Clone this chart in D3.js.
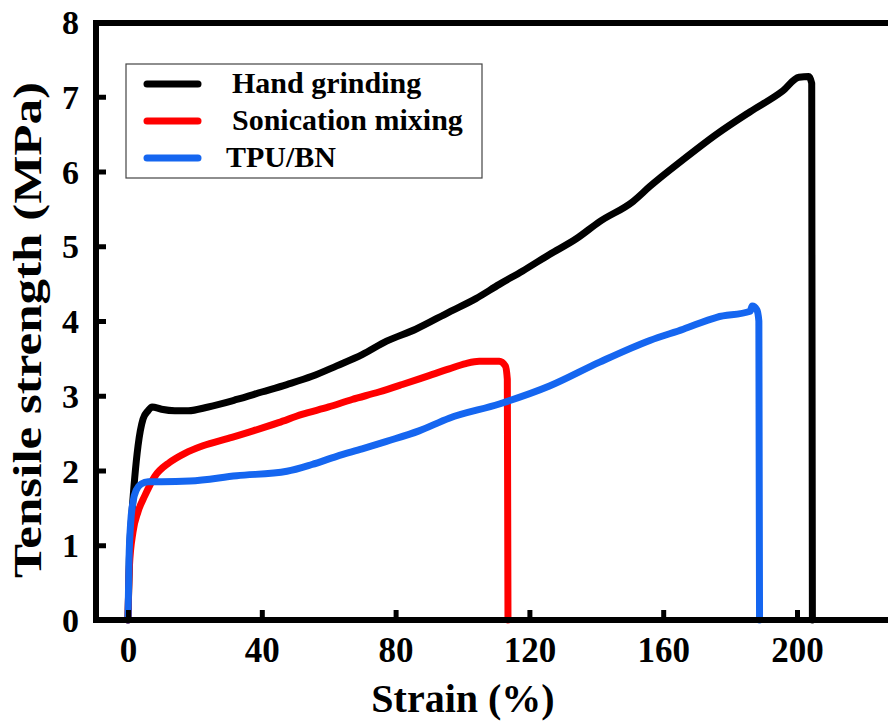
<!DOCTYPE html>
<html>
<head>
<meta charset="utf-8">
<script src="https://cdn.jsdelivr.net/npm/d3@7"></script>
<style>
  html, body { margin: 0; padding: 0; background: #fff; overflow: hidden; }
  text { font-family: "Liberation Serif", "Times New Roman", serif; font-weight: bold; fill: #000; }
</style>
</head>
<body>
<script>
// chart data
var seriesNames = ["Hand grinding", "Sonication mixing", "TPU/BN"];
var seriesColors = ["#000000", "#ff0000", "#1566f0"];

var handStrain = [0, 0.4, 1.2, 2, 3, 4.5, 6, 7.2, 10, 14, 18, 24, 32.5, 40, 47.5, 55, 62.4, 70, 77.3, 86, 96, 104, 111, 118, 126, 134, 141, 151, 156, 166, 176, 186, 195.5, 200.6, 203.5, 204.4, 204.6];
var handStress = [0, 0.8, 1.44, 1.9, 2.33, 2.69, 2.8, 2.85, 2.82, 2.8, 2.8, 2.85, 2.95, 3.05, 3.15, 3.26, 3.4, 3.55, 3.73, 3.89, 4.12, 4.3, 4.49, 4.67, 4.89, 5.1, 5.33, 5.6, 5.8, 6.16, 6.5, 6.8, 7.07, 7.26, 7.27, 7.18, 0];

var sonicStrain = [0, 0.4, 1.5, 3, 5, 8, 12.5, 17, 22.4, 30, 37.4, 45, 52, 60, 67, 75, 82, 90, 96, 101, 105, 111, 112.8, 113.4, 113.6];
var sonicStress = [0, 0.7, 1.18, 1.45, 1.66, 1.92, 2.11, 2.23, 2.33, 2.43, 2.53, 2.64, 2.75, 2.85, 2.95, 3.05, 3.15, 3.27, 3.36, 3.43, 3.46, 3.46, 3.4, 3.22, 0];

var tpuStrain = [0, 0.3, 0.8, 1.5, 2.5, 4, 6, 10, 18.5, 32.5, 47.5, 55, 62.4, 70, 77.3, 87, 96, 111, 126, 141, 156, 166, 176, 186, 186.6, 188, 188.6, 188.8];
var tpuStress = [0, 0.8, 1.3, 1.58, 1.74, 1.82, 1.85, 1.85, 1.86, 1.93, 1.99, 2.08, 2.19, 2.29, 2.39, 2.53, 2.7, 2.89, 3.13, 3.45, 3.74, 3.89, 4.05, 4.13, 4.2, 4.15, 4.0, 0];

var xTicks = [0, 40, 80, 120, 160, 200];
var yTicks = [0, 1, 2, 3, 4, 5, 6, 7, 8];

var width = 888, height = 724;
var svg = d3.select("body").append("svg").attr("width", width).attr("height", height);

var x = d3.scaleLinear().domain([0, 200]).range([128, 797]);
var y = d3.scaleLinear().domain([0, 8]).range([620, 22]);

var plotLeft = 96, plotTop = 23, plotBottom = 620;

// curves
var series = [
  handStrain.map(function(d, i){ return [d, handStress[i]]; }),
  sonicStrain.map(function(d, i){ return [d, sonicStress[i]]; }),
  tpuStrain.map(function(d, i){ return [d, tpuStress[i]]; })
];
var line = d3.line()
  .x(function(d){ return x(d[0]); })
  .y(function(d){ return y(d[1]); })
  .curve(d3.curveMonotoneX);

svg.append("g").selectAll("path").data(series).enter().append("path")
  .attr("d", line)
  .attr("fill", "none")
  .attr("stroke", function(d, i){ return seriesColors[i]; })
  .attr("stroke-width", 7)
  .attr("stroke-linejoin", "round")
  .attr("stroke-linecap", "round");

// axes
var xAxis = svg.append("g").attr("transform", "translate(0," + plotBottom + ")")
  .call(d3.axisBottom(x).tickValues(xTicks).tickSize(-10).tickFormat(d3.format("d")));
xAxis.select(".domain").remove();
xAxis.selectAll(".tick line").attr("stroke", "#000").attr("stroke-width", 5);
xAxis.selectAll(".tick text").attr("y", 42).attr("dy", null).style("font-size", "35px");

var yAxis = svg.append("g").attr("transform", "translate(" + plotLeft + ",0)")
  .call(d3.axisLeft(y).tickValues(yTicks).tickSize(-10).tickFormat(d3.format("d")));
yAxis.select(".domain").remove();
yAxis.selectAll(".tick line").attr("stroke", "#000").attr("stroke-width", 5);
yAxis.selectAll(".tick text").attr("x", -17).attr("dy", "0.34em").style("font-size", "34px");

// frame (open on the right, as in the cropped figure)
svg.append("path")
  .attr("d", "M" + width + "," + plotTop + "H" + plotLeft + "V" + plotBottom + "H" + width)
  .attr("fill", "none").attr("stroke", "#000").attr("stroke-width", 6);

// axis titles
svg.append("text").attr("x", 463).attr("y", 712).attr("text-anchor", "middle")
  .style("font-size", "40px").text("Strain (%)");
svg.append("text").attr("transform", "translate(41,330) rotate(-90)").attr("text-anchor", "middle")
  .attr("textLength", 496).attr("lengthAdjust", "spacingAndGlyphs")
  .style("font-size", "39px").text("Tensile strength (MPa)");

// legend
var legend = svg.append("g");
legend.append("rect").attr("x", 126).attr("y", 64).attr("width", 356).attr("height", 114)
  .attr("fill", "#fff").attr("stroke", "#444").attr("stroke-width", 1.2);
var legendY = [84, 121, 158];
var legendTextX = [232, 232, 226];
seriesNames.forEach(function(name, i){
  legend.append("line").attr("x1", 147).attr("x2", 198).attr("y1", legendY[i]).attr("y2", legendY[i])
    .attr("stroke", seriesColors[i]).attr("stroke-width", 7).attr("stroke-linecap", "round");
  legend.append("text").attr("x", legendTextX[i]).attr("y", legendY[i] + 9)
    .style("font-size", "30px").text(name);
});
</script>
</body>
</html>
